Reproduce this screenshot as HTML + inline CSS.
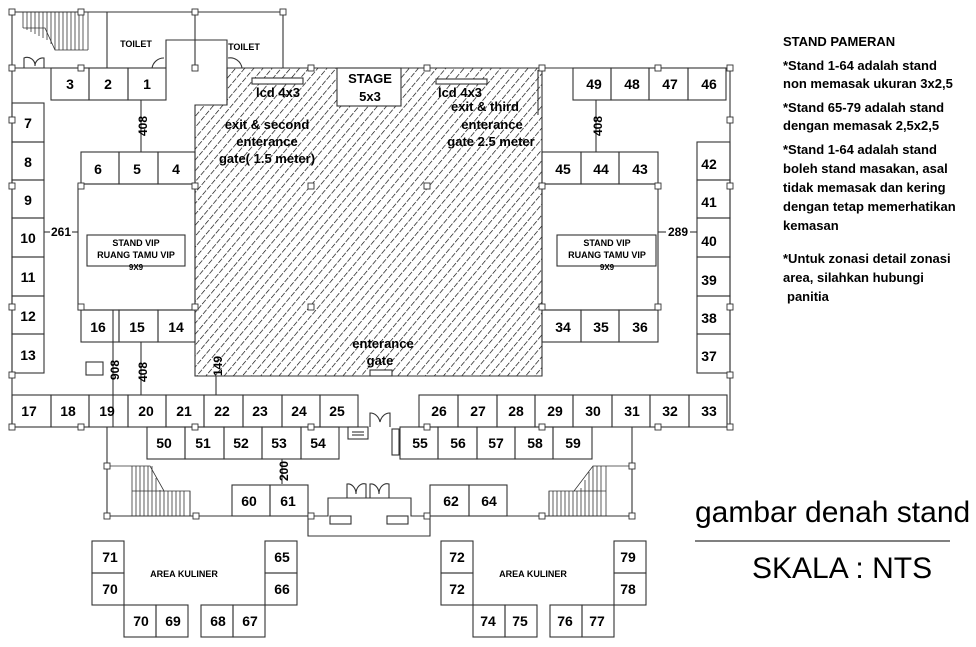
<!DOCTYPE html>
<html><head><meta charset="utf-8"><style>
html,body{margin:0;padding:0;background:#fff;}
svg{display:block;font-family:"Liberation Sans",Arial,sans-serif;}
.n{font-size:14px;font-weight:bold;text-anchor:middle;dominant-baseline:central;}
.s{font-size:9px;font-weight:bold;text-anchor:middle;}
.h{font-size:13px;text-anchor:middle;font-weight:bold;}
.r{font-size:13px;font-weight:bold;}
</style></head><body>
<svg width="976" height="647" viewBox="0 0 976 647" xmlns="http://www.w3.org/2000/svg">
<defs>
<pattern id="hat" width="7" height="7" patternUnits="userSpaceOnUse" patternTransform="rotate(40)">
<line x1="0" y1="0" x2="0" y2="7" stroke="#000" stroke-width="1.3" stroke-dasharray="5 1.5"/>
</pattern>
</defs>
<rect width="976" height="647" fill="#fff"/>
<g stroke="#333" stroke-width="1.1" fill="none">
<polygon points="227,68 542,68 542,376 195,376 195,105 227,105" fill="url(#hat)"/>
<rect x="337" y="68" width="64" height="38" fill="#fff"/>
<rect x="252" y="78" width="51" height="6" fill="#fff"/>
<rect x="436" y="79" width="51" height="5" fill="#fff"/>
<rect x="370" y="370" width="22" height="6" fill="#fff"/>
<line x1="538" y1="70" x2="538" y2="115"/>
<polyline points="12,12 283,12 283,68"/>
<line x1="12" y1="12" x2="12" y2="427"/>
<line x1="12" y1="68" x2="166" y2="68"/>
<line x1="107" y1="12" x2="107" y2="68"/>
<polyline points="166,68 166,40 227,40 227,105"/>
<line x1="195" y1="12" x2="195" y2="68"/>
<line x1="227" y1="68" x2="283" y2="68"/>
<g stroke-width="0.8">
<line x1="23" y1="12" x2="23" y2="28"/><line x1="27" y1="12" x2="27" y2="30"/><line x1="31" y1="12" x2="31" y2="32"/><line x1="35" y1="12" x2="35" y2="34"/><line x1="39" y1="12" x2="39" y2="36"/><line x1="43" y1="12" x2="43" y2="38"/><line x1="47" y1="12" x2="47" y2="40"/><line x1="51" y1="12" x2="51" y2="44"/><line x1="55" y1="12" x2="55" y2="50"/><line x1="59" y1="12" x2="59" y2="50"/><line x1="63" y1="12" x2="63" y2="50"/><line x1="67" y1="12" x2="67" y2="50"/><line x1="71" y1="12" x2="71" y2="50"/><line x1="75" y1="12" x2="75" y2="50"/><line x1="79" y1="12" x2="79" y2="50"/><line x1="83" y1="12" x2="83" y2="50"/><line x1="88" y1="12" x2="88" y2="50"/>
<polyline points="23,28 45,28 55,50 88,50"/>
</g>
<path d="M24,68 V58 A8,8 0 0 1 35,66 M35,66 A8,8 0 0 1 44,58 V68"/>
<path d="M152,68 A12,12 0 0 1 164,58"/>
<path d="M228,58 A12,12 0 0 1 242,68"/>
<polyline points="542,68 730,68 730,427"/>
<rect x="51" y="68" width="38" height="32"/><rect x="89" y="68" width="39" height="32"/><rect x="128" y="68" width="38" height="32"/>
<line x1="141" y1="100" x2="141" y2="152"/>
<rect x="12" y="103" width="32" height="39"/><rect x="12" y="142" width="32" height="38"/><rect x="12" y="180" width="32" height="38"/><rect x="12" y="218" width="32" height="39"/><rect x="12" y="257" width="32" height="39"/><rect x="12" y="296" width="32" height="38"/><rect x="12" y="334" width="32" height="39"/>
<rect x="81" y="152" width="38" height="32"/><rect x="119" y="152" width="39" height="32"/><rect x="158" y="152" width="37" height="32"/>
<rect x="78" y="184" width="117" height="126"/>
<rect x="87" y="235" width="98" height="31"/>
<line x1="44" y1="232" x2="50" y2="232"/><line x1="72" y1="232" x2="78" y2="232"/>
<rect x="81" y="310" width="38" height="32"/><rect x="119" y="310" width="39" height="32"/><rect x="158" y="310" width="37" height="32"/>
<line x1="113" y1="310" x2="113" y2="427"/><line x1="141" y1="342" x2="141" y2="395"/><line x1="216" y1="376" x2="216" y2="395"/>
<rect x="86" y="362" width="17" height="13"/>
<rect x="573" y="68" width="38" height="32"/><rect x="611" y="68" width="38" height="32"/><rect x="649" y="68" width="39" height="32"/><rect x="688" y="68" width="38" height="32"/>
<line x1="596" y1="100" x2="596" y2="152"/>
<rect x="542" y="152" width="39" height="32"/><rect x="581" y="152" width="38" height="32"/><rect x="619" y="152" width="39" height="32"/>
<rect x="542" y="184" width="116" height="126"/>
<rect x="557" y="235" width="99" height="31"/>
<line x1="658" y1="232" x2="666" y2="232"/><line x1="690" y1="232" x2="697" y2="232"/>
<rect x="542" y="310" width="39" height="32"/><rect x="581" y="310" width="38" height="32"/><rect x="619" y="310" width="39" height="32"/>
<rect x="697" y="142" width="33" height="38"/><rect x="697" y="180" width="33" height="38"/><rect x="697" y="218" width="33" height="39"/><rect x="697" y="257" width="33" height="39"/><rect x="697" y="296" width="33" height="38"/><rect x="697" y="334" width="33" height="39"/>
<rect x="12" y="395" width="39" height="32"/><rect x="51" y="395" width="38" height="32"/><rect x="89" y="395" width="39" height="32"/><rect x="128" y="395" width="38" height="32"/><rect x="166" y="395" width="38" height="32"/><rect x="204" y="395" width="39" height="32"/><rect x="243" y="395" width="39" height="32"/><rect x="282" y="395" width="38" height="32"/><rect x="320" y="395" width="38" height="32"/>
<rect x="419" y="395" width="39" height="32"/><rect x="458" y="395" width="39" height="32"/><rect x="497" y="395" width="38" height="32"/><rect x="535" y="395" width="38" height="32"/><rect x="573" y="395" width="39" height="32"/><rect x="612" y="395" width="38" height="32"/><rect x="650" y="395" width="39" height="32"/><rect x="689" y="395" width="38" height="32"/>
<line x1="727" y1="427" x2="730" y2="427"/>
<path d="M370,427 V413 A10,12 0 0 1 380,422 A10,12 0 0 1 390,413 V427"/>
<rect x="348" y="427" width="20" height="12"/><line x1="352" y1="432" x2="364" y2="432"/><line x1="352" y1="435" x2="364" y2="435"/>
<rect x="392" y="429" width="7" height="26"/>
<rect x="147" y="427" width="38" height="32"/><rect x="185" y="427" width="39" height="32"/><rect x="224" y="427" width="38" height="32"/><rect x="262" y="427" width="39" height="32"/><rect x="301" y="427" width="38" height="32"/>
<rect x="400" y="427" width="38" height="32"/><rect x="438" y="427" width="39" height="32"/><rect x="477" y="427" width="38" height="32"/><rect x="515" y="427" width="38" height="32"/><rect x="553" y="427" width="39" height="32"/>
<line x1="282" y1="459" x2="282" y2="484"/>
<polyline points="107,427 107,516 232,516"/>
<g stroke-width="0.8">
<line x1="132" y1="466" x2="132" y2="516"/><line x1="136" y1="466" x2="136" y2="516"/><line x1="140" y1="466" x2="140" y2="516"/><line x1="144" y1="466" x2="144" y2="516"/><line x1="148" y1="466" x2="148" y2="516"/><line x1="152" y1="466" x2="152" y2="516"/><line x1="156" y1="478" x2="156" y2="516"/><line x1="160" y1="490" x2="160" y2="516"/><line x1="164" y1="491" x2="164" y2="516"/><line x1="168" y1="491" x2="168" y2="516"/><line x1="172" y1="491" x2="172" y2="516"/><line x1="176" y1="491" x2="176" y2="516"/><line x1="180" y1="491" x2="180" y2="516"/><line x1="184" y1="491" x2="184" y2="516"/><line x1="190" y1="491" x2="190" y2="516"/>
<polyline points="107,466 150,466 164,491 190,491 190,516"/><line x1="132" y1="491" x2="164" y2="491"/>
</g>
<polyline points="632,427 632,516 507,516"/>
<g stroke-width="0.8">
<line x1="549" y1="491" x2="549" y2="516"/><line x1="553" y1="491" x2="553" y2="516"/><line x1="557" y1="491" x2="557" y2="516"/><line x1="561" y1="491" x2="561" y2="516"/><line x1="565" y1="491" x2="565" y2="516"/><line x1="569" y1="491" x2="569" y2="516"/><line x1="573" y1="491" x2="573" y2="516"/><line x1="577" y1="491" x2="577" y2="516"/><line x1="581" y1="488" x2="581" y2="516"/><line x1="585" y1="480" x2="585" y2="516"/><line x1="589" y1="472" x2="589" y2="516"/><line x1="593" y1="466" x2="593" y2="516"/><line x1="597" y1="466" x2="597" y2="516"/><line x1="601" y1="466" x2="601" y2="516"/><line x1="606" y1="466" x2="606" y2="516"/>
<polyline points="549,516 549,491 574,491 593,466 632,466"/><line x1="574" y1="491" x2="606" y2="491"/>
</g>
<rect x="232" y="485" width="38" height="31"/><rect x="270" y="485" width="38" height="31"/>
<rect x="430" y="485" width="39" height="31"/><rect x="469" y="485" width="38" height="31"/>
<polyline points="308,516 308,536 430,536 430,516"/>
<polyline points="308,516 328,516 328,498 411,498 411,516 430,516"/>
<path d="M347,498 V484 A8,10 0 0 1 356,494 A8,10 0 0 1 366,484 V498 M370,498 V484 A8,10 0 0 1 379,494 A8,10 0 0 1 389,484 V498"/>
<rect x="330" y="516" width="21" height="8"/><rect x="387" y="516" width="21" height="8"/>
<rect x="92" y="541" width="32" height="32"/><rect x="92" y="573" width="32" height="32"/><rect x="124" y="605" width="32" height="32"/><rect x="156" y="605" width="32" height="32"/>
<rect x="201" y="605" width="32" height="32"/><rect x="233" y="605" width="32" height="32"/><rect x="265" y="541" width="32" height="32"/><rect x="265" y="573" width="32" height="32"/>
<rect x="441" y="541" width="32" height="32"/><rect x="441" y="573" width="32" height="32"/><rect x="473" y="605" width="32" height="32"/><rect x="505" y="605" width="32" height="32"/>
<rect x="550" y="605" width="32" height="32"/><rect x="582" y="605" width="32" height="32"/><rect x="614" y="541" width="32" height="32"/><rect x="614" y="573" width="32" height="32"/>
<line x1="695" y1="541" x2="950" y2="541" stroke="#000"/>
</g>
<g stroke="#333" stroke-width="0.9" fill="#fff">
<rect x="9" y="9" width="6" height="6"/><rect x="78" y="9" width="6" height="6"/><rect x="192" y="9" width="6" height="6"/><rect x="280" y="9" width="6" height="6"/>
<rect x="9" y="65" width="6" height="6"/><rect x="78" y="65" width="6" height="6"/><rect x="192" y="65" width="6" height="6"/><rect x="308" y="65" width="6" height="6"/><rect x="424" y="65" width="6" height="6"/><rect x="539" y="65" width="6" height="6"/><rect x="655" y="65" width="6" height="6"/><rect x="727" y="65" width="6" height="6"/>
<rect x="9" y="117" width="6" height="6"/><rect x="727" y="117" width="6" height="6"/>
<rect x="9" y="183" width="6" height="6"/><rect x="78" y="183" width="6" height="6"/><rect x="192" y="183" width="6" height="6"/><rect x="308" y="183" width="6" height="6"/><rect x="424" y="183" width="6" height="6"/><rect x="539" y="183" width="6" height="6"/><rect x="655" y="183" width="6" height="6"/><rect x="727" y="183" width="6" height="6"/>
<rect x="9" y="304" width="6" height="6"/><rect x="78" y="304" width="6" height="6"/><rect x="192" y="304" width="6" height="6"/><rect x="308" y="304" width="6" height="6"/><rect x="539" y="304" width="6" height="6"/><rect x="655" y="304" width="6" height="6"/><rect x="727" y="304" width="6" height="6"/>
<rect x="9" y="372" width="6" height="6"/><rect x="727" y="372" width="6" height="6"/>
<rect x="9" y="424" width="6" height="6"/><rect x="78" y="424" width="6" height="6"/><rect x="192" y="424" width="6" height="6"/><rect x="308" y="424" width="6" height="6"/><rect x="424" y="424" width="6" height="6"/><rect x="539" y="424" width="6" height="6"/><rect x="655" y="424" width="6" height="6"/><rect x="727" y="424" width="6" height="6"/>
<rect x="104" y="463" width="6" height="6"/><rect x="629" y="463" width="6" height="6"/>
<rect x="104" y="513" width="6" height="6"/><rect x="193" y="513" width="6" height="6"/><rect x="308" y="513" width="6" height="6"/><rect x="424" y="513" width="6" height="6"/><rect x="539" y="513" width="6" height="6"/><rect x="629" y="513" width="6" height="6"/>
</g>
<g class="n">
<text x="70" y="84">3</text><text x="108" y="84">2</text><text x="147" y="84">1</text>
<text x="28" y="123">7</text><text x="28" y="162">8</text><text x="28" y="200">9</text><text x="28" y="238">10</text><text x="28" y="277">11</text><text x="28" y="316">12</text><text x="28" y="355">13</text>
<text x="98" y="169">6</text><text x="137" y="169">5</text><text x="176" y="169">4</text>
<text x="98" y="327">16</text><text x="137" y="327">15</text><text x="176" y="327">14</text>
<text x="594" y="84">49</text><text x="632" y="84">48</text><text x="670" y="84">47</text><text x="709" y="84">46</text>
<text x="563" y="169">45</text><text x="601" y="169">44</text><text x="640" y="169">43</text>
<text x="563" y="327">34</text><text x="601" y="327">35</text><text x="640" y="327">36</text>
<text x="709" y="164">42</text><text x="709" y="202">41</text><text x="709" y="241">40</text><text x="709" y="280">39</text><text x="709" y="318">38</text><text x="709" y="356">37</text>
<text x="29" y="411">17</text><text x="68" y="411">18</text><text x="107" y="411">19</text><text x="146" y="411">20</text><text x="184" y="411">21</text><text x="222" y="411">22</text><text x="260" y="411">23</text><text x="299" y="411">24</text><text x="337" y="411">25</text>
<text x="439" y="411">26</text><text x="478" y="411">27</text><text x="516" y="411">28</text><text x="555" y="411">29</text><text x="593" y="411">30</text><text x="632" y="411">31</text><text x="670" y="411">32</text><text x="709" y="411">33</text>
<text x="164" y="443">50</text><text x="203" y="443">51</text><text x="241" y="443">52</text><text x="279" y="443">53</text><text x="318" y="443">54</text>
<text x="420" y="443">55</text><text x="458" y="443">56</text><text x="496" y="443">57</text><text x="535" y="443">58</text><text x="573" y="443">59</text>
<text x="249" y="501">60</text><text x="288" y="501">61</text><text x="451" y="501">62</text><text x="489" y="501">64</text>
<text x="110" y="557">71</text><text x="110" y="589">70</text><text x="141" y="621">70</text><text x="173" y="621">69</text><text x="218" y="621">68</text><text x="250" y="621">67</text><text x="282" y="557">65</text><text x="282" y="589">66</text>
<text x="457" y="557">72</text><text x="457" y="589">72</text><text x="488" y="621">74</text><text x="520" y="621">75</text><text x="565" y="621">76</text><text x="597" y="621">77</text><text x="628" y="557">79</text><text x="628" y="589">78</text>
<text x="61" y="232" style="font-size:12px">261</text><text x="678" y="232" style="font-size:12px">289</text>
</g>
<g class="n" style="font-size:12px">
<text transform="translate(143,126) rotate(-90)">408</text><text transform="translate(598,126) rotate(-90)">408</text>
<text transform="translate(115,370) rotate(-90)">908</text><text transform="translate(143,372) rotate(-90)">408</text>
<text transform="translate(218,366) rotate(-90)">149</text><text transform="translate(284,471) rotate(-90)">200</text>
</g>
<g class="s">
<text x="136" y="47">TOILET</text><text x="244" y="50">TOILET</text>
<text x="136" y="246">STAND VIP</text><text x="136" y="258">RUANG TAMU VIP</text><text x="136" y="270" style="font-size:8px">9X9</text>
<text x="607" y="246">STAND VIP</text><text x="607" y="258">RUANG TAMU VIP</text><text x="607" y="270" style="font-size:8px">9X9</text>
<text x="184" y="577">AREA KULINER</text><text x="533" y="577">AREA KULINER</text>
</g>
<g class="h">
<text x="370" y="83">STAGE</text><text x="370" y="101">5x3</text>
<text x="278" y="97">lcd 4x3</text><text x="460" y="97">lcd 4x3</text>
<text x="267" y="129">exit &amp; second</text><text x="267" y="146">enterance</text><text x="267" y="163">gate( 1.5 meter)</text>
<text x="485" y="111">exit &amp; third</text><text x="492" y="129">enterance</text><text x="491" y="146">gate 2.5 meter</text>
<text x="383" y="348">enterance</text><text x="380" y="365">gate</text>
</g>
<g class="r">
<text x="783" y="46">STAND PAMERAN</text>
<text x="783" y="70">*Stand 1-64 adalah stand</text>
<text x="783" y="88">non memasak ukuran 3x2,5</text>
<text x="783" y="112">*Stand 65-79 adalah stand</text>
<text x="783" y="130">dengan memasak 2,5x2,5</text>
<text x="783" y="154">*Stand 1-64 adalah stand</text>
<text x="783" y="173">boleh stand masakan, asal</text>
<text x="783" y="192">tidak memasak dan kering</text>
<text x="783" y="211">dengan tetap memerhatikan</text>
<text x="783" y="230">kemasan</text>
<text x="783" y="263">*Untuk zonasi detail zonasi</text>
<text x="783" y="282">area, silahkan hubungi</text>
<text x="787" y="301">panitia</text>
</g>
<text x="695" y="522" style="font-size:30px">gambar denah stand</text>
<text x="752" y="578" style="font-size:30px">SKALA : NTS</text>
</svg>
</body></html>
